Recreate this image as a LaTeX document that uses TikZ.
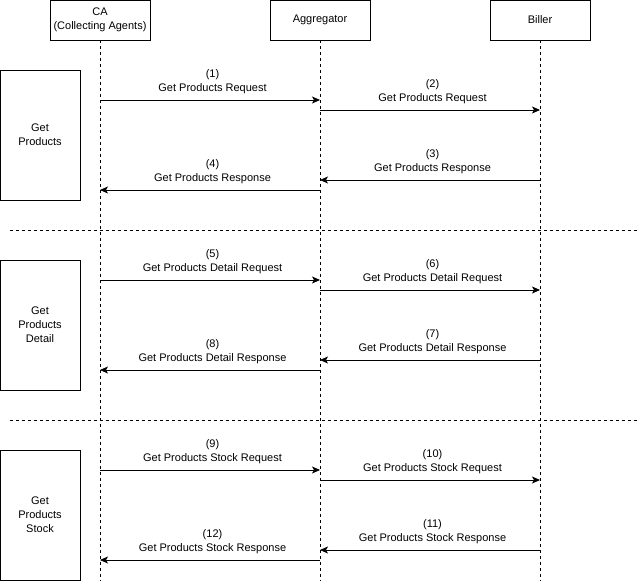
\documentclass[tikz,border=0pt]{standalone}
\usepackage{fontspec}
\setmainfont{Liberation Sans}
\usetikzlibrary{arrows.meta,calc}
\begin{document}
\begin{tikzpicture}[x=1pt,y=-1pt,
  font=\fontsize{11}{14}\selectfont,
  actor/.style={draw,line width=0.8pt,minimum width=100pt,minimum height=40pt,inner sep=0pt,align=center},
  phase/.style={draw,line width=0.8pt,minimum width=80pt,minimum height=130pt,inner sep=0pt,align=center},
  life/.style={line width=0.8pt,dash pattern=on 3pt off 3pt},
  sep/.style={line width=0.8pt,dash pattern=on 3pt off 3pt},
  msg/.style={line width=0.8pt,-{Stealth[length=8pt,width=7pt,inset=2pt]}},
  lbl/.style={align=center,inner sep=0pt,anchor=south}]
\useasboundingbox (0,0) rectangle (642,581);
\node[actor] (ca) at (100,20) {CA\\(Collecting Agents)};
\node[actor] (agg) at (320,20) {Aggregator};
\node[actor] (bil) at (540,20) {Biller};
\coordinate (caE) at (100,581);
\coordinate (aggE) at (320,581);
\coordinate (bilE) at (540,581);
\draw[life] (ca.south) -- (caE);
\draw[life] (agg.south) -- (aggE);
\draw[life] (bil.south) -- (bilE);
\node[phase] (p1) at (40,135) {Get\\Products};
\node[phase] (p2) at (40,325) {Get\\Products\\Detail};
\node[phase] (p3) at (40,515) {Get\\Products\\Stock};
\coordinate (s1a) at (10,230); \coordinate (s1b) at (637,230);
\coordinate (s2a) at (10,420); \coordinate (s2b) at (637,420);
\draw[sep] (s1a) -- (s1b);
\draw[sep] (s2a) -- (s2b);
% messages
\foreach \y/\fx/\tx/\n/\t in {
  100/100/320/1/Get Products Request,
  110/320/540/2/Get Products Request,
  180/540/320/3/Get Products Response,
  190/320/100/4/Get Products Response,
  280/100/320/5/Get Products Detail Request,
  290/320/540/6/Get Products Detail Request,
  360/540/320/7/Get Products Detail Response,
  370/320/100/8/Get Products Detail Response,
  470/100/320/9/Get Products Stock Request,
  480/320/540/10/Get Products Stock Request,
  550/540/320/11/Get Products Stock Response,
  560/320/100/12/Get Products Stock Response}{
  \coordinate (m\n a) at (\fx,\y);
  \coordinate (m\n b) at (\tx,\y);
  \draw[msg] (m\n a) -- (m\n b);
  \node[lbl] (l\n) at ($(m\n a)!0.5!(m\n b)+(2.5,-6)$) {(\n)\\\t};
}
\end{tikzpicture}
\end{document}
